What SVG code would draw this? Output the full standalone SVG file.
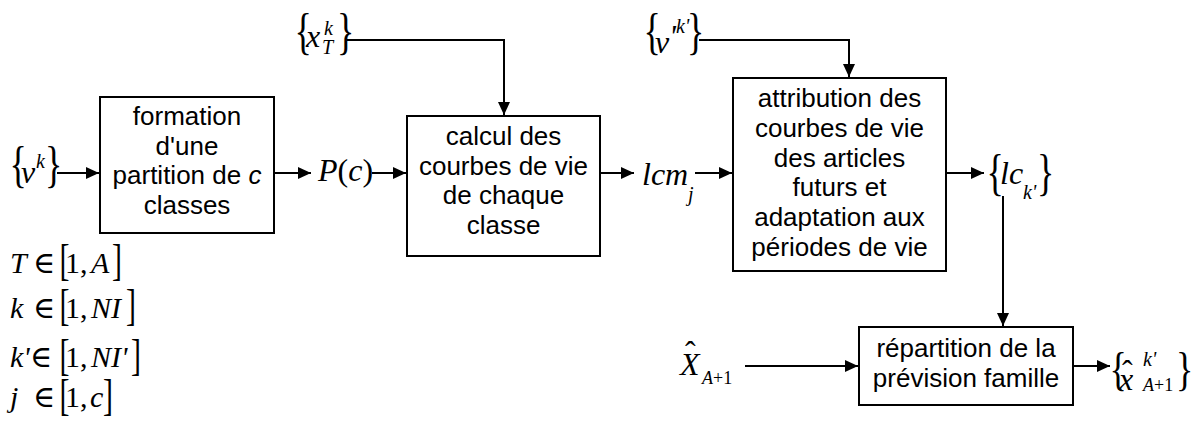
<svg xmlns="http://www.w3.org/2000/svg" width="1197" height="421" viewBox="0 0 1197 421">
  <defs>
    <marker id="arrow" markerUnits="userSpaceOnUse" markerWidth="14" markerHeight="12" refX="13" refY="6" orient="auto">
      <path d="M0,0 L13,6 L0,12 z" fill="#000"/>
    </marker>
    <style>
      .box { fill: #fff; stroke: #000; stroke-width: 2; }
      .lbl { font-family: "Liberation Sans", Arial, sans-serif; font-size: 26px; text-anchor: middle; fill: #000; }
      .m { font-family: "Liberation Serif", "Times New Roman", "DejaVu Serif", serif; font-size: 32px; fill: #000; }
      .br { font-family: "Liberation Serif", "Times New Roman", "DejaVu Serif", serif; font-size: 36px; fill: #000; }
      .s { font-family: "Liberation Serif", "Times New Roman", "DejaVu Serif", serif; font-size: 30px; fill: #000; }
      .i { font-style: italic; }
      .sm { font-size: 20px; }
      .xs { font-size: 18px; }
      .wire { fill: none; stroke: #000; stroke-width: 2; }
    </style>
  </defs>

  <rect width="1197" height="421" fill="#fff"/>

  <!-- connectors -->
  <g id="connectors">
    <path class="wire" d="M57,173 H99" marker-end="url(#arrow)"/>
    <path class="wire" d="M274,173 H311" marker-end="url(#arrow)"/>
    <path class="wire" d="M372,173 H406" marker-end="url(#arrow)"/>
    <path class="wire" d="M347,40 H504 V115" marker-end="url(#arrow)"/>
    <path class="wire" d="M600,173 H634" marker-end="url(#arrow)"/>
    <path class="wire" d="M695,173 H732" marker-end="url(#arrow)"/>
    <path class="wire" d="M699,40 H849 V77" marker-end="url(#arrow)"/>
    <path class="wire" d="M946,173 H984" marker-end="url(#arrow)"/>
    <path class="wire" d="M1003,196 V326" marker-end="url(#arrow)"/>
    <path class="wire" d="M745,366 H858" marker-end="url(#arrow)"/>
    <path class="wire" d="M1073,366 H1110" marker-end="url(#arrow)"/>
  </g>

  <!-- process blocks -->
  <g id="formation">
    <rect class="box" x="100" y="97" width="174" height="136"/>
    <text class="lbl" x="187" y="125">formation</text>
    <text class="lbl" x="187" y="154.5">d'une</text>
    <text class="lbl" x="187" y="184">partition de <tspan font-style="italic">c</tspan></text>
    <text class="lbl" x="187" y="213.5">classes</text>
  </g>

  <g id="calcul">
    <rect class="box" x="407" y="116" width="193" height="140"/>
    <text class="lbl" x="503.5" y="145">calcul des</text>
    <text class="lbl" x="503.5" y="174.5">courbes de vie</text>
    <text class="lbl" x="503.5" y="204">de chaque</text>
    <text class="lbl" x="503.5" y="233.5">classe</text>
  </g>

  <g id="attribution">
    <rect class="box" x="733" y="78" width="213" height="193"/>
    <text class="lbl" x="839.5" y="107">attribution des</text>
    <text class="lbl" x="839.5" y="136.8">courbes de vie</text>
    <text class="lbl" x="839.5" y="166.6">des articles</text>
    <text class="lbl" x="839.5" y="196.4">futurs et</text>
    <text class="lbl" x="839.5" y="226.2">adaptation aux</text>
    <text class="lbl" x="839.5" y="256">périodes de vie</text>
  </g>

  <g id="repartition">
    <rect class="box" x="859" y="327" width="214" height="78"/>
    <text class="lbl" x="966" y="357">répartition de la</text>
    <text class="lbl" x="966" y="387">prévision famille</text>
  </g>

  <!-- quantities -->
  <g id="input-v">
    <text class="br" transform="translate(9.4,180.7) scale(1,1.43)">{</text>
    <text class="m i" x="21" y="183">v</text>
    <text class="m i sm" x="36" y="168">k</text>
    <text class="br" transform="translate(45,180.7) scale(1,1.43)">}</text>
  </g>

  <g id="input-x">
    <text class="br" transform="translate(294.4,47.9) scale(1,1.4)">{</text>
    <text class="m i" x="306" y="47">x</text>
    <text class="m i sm" x="324" y="35">k</text>
    <text class="m i sm" x="322" y="54">T</text>
    <text class="br" transform="translate(337,47.9) scale(1,1.4)">}</text>
  </g>

  <g id="input-vprime">
    <text class="br" transform="translate(643.4,47.7) scale(1,1.43)">{</text>
    <text class="m i" x="655" y="53">v</text>
    <text class="m i" x="669" y="47" font-size="30">'</text>
    <text class="m i sm" x="676" y="33">k'</text>
    <text class="br" transform="translate(687,47.7) scale(1,1.43)">}</text>
  </g>

  <g id="partition">
    <text class="m" x="318" y="181"><tspan font-style="italic">P</tspan>(<tspan font-style="italic">c</tspan>)</text>
  </g>

  <g id="lcm">
    <text class="m i" x="642" y="185">lcm</text>
    <text class="m i sm" x="688" y="201">j</text>
  </g>

  <g id="lc">
    <text class="br" transform="translate(986.4,188.7) scale(1,1.43)">{</text>
    <text class="m i" x="1000" y="184">lc</text>
    <text class="m i sm" x="1023" y="199">k'</text>
    <text class="br" transform="translate(1037,188.7) scale(1,1.43)">}</text>
  </g>

  <g id="family-forecast">
    <text class="m i" x="680" y="375">X</text>
    <text class="m" x="685" y="363">ˆ</text>
    <text class="m xs" x="702" y="384"><tspan font-style="italic">A</tspan>+1</text>
  </g>

  <g id="item-forecast">
    <text class="br" transform="translate(1109.4,384.7) scale(1,1.27)">{</text>
    <text class="m i" x="1119" y="390">x</text>
    <text class="m" x="1122" y="382" font-size="28">ˆ</text>
    <text class="m i sm" x="1143" y="366">k'</text>
    <text class="m xs" x="1143" y="391"><tspan font-style="italic">A</tspan>+1</text>
    <text class="br" transform="translate(1176,384.7) scale(1,1.27)">}</text>
  </g>

  <!-- index ranges -->
  <g id="ranges">
    <text class="s i" x="10" y="273">T</text>
    <text class="s" x="33" y="273">∈</text>
    <text class="s" transform="translate(59.5,275) scale(1,1.5)">[</text>
    <text class="s" x="65" y="273">1,</text>
    <text class="s i" x="91" y="273">A</text>
    <text class="s" transform="translate(112,275) scale(1,1.5)">]</text>

    <text class="s i" x="10" y="318">k</text>
    <text class="s" x="33" y="318">∈</text>
    <text class="s" transform="translate(59.5,320) scale(1,1.5)">[</text>
    <text class="s" x="65" y="318">1,</text>
    <text class="s i" x="91" y="318">NI</text>
    <text class="s" transform="translate(126,320) scale(1,1.5)">]</text>

    <text class="s i" x="10" y="367">k'</text>
    <text class="s" x="30" y="367">∈</text>
    <text class="s" transform="translate(59.5,370) scale(1,1.5)">[</text>
    <text class="s" x="65" y="367">1,</text>
    <text class="s i" x="91" y="367">NI'</text>
    <text class="s" transform="translate(131,370) scale(1,1.5)">]</text>

    <text class="s i" x="10" y="407">j</text>
    <text class="s" x="33" y="407">∈</text>
    <text class="s" transform="translate(59.5,410) scale(1,1.5)">[</text>
    <text class="s" x="65" y="407">1,</text>
    <text class="s i" x="90" y="407">c</text>
    <text class="s" transform="translate(103,410) scale(1,1.5)">]</text>
  </g>
</svg>
